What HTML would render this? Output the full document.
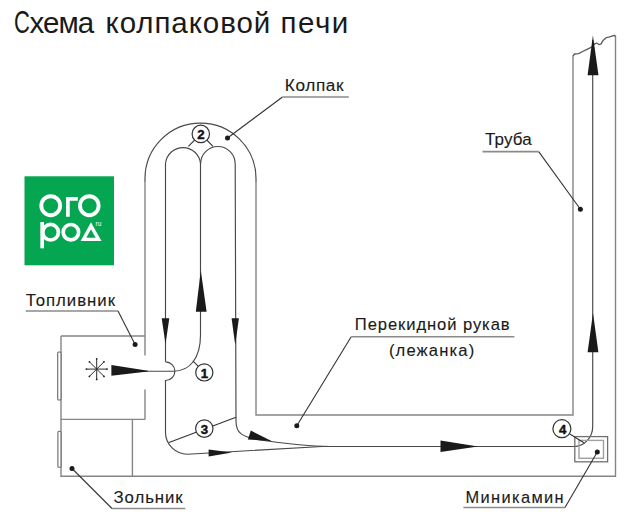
<!DOCTYPE html>
<html><head><meta charset="utf-8">
<style>
html,body{margin:0;padding:0;background:#fff;width:640px;height:521px;overflow:hidden}
svg{display:block}
text{font-family:"Liberation Sans",sans-serif;fill:#1a1a1a}
.lb{stroke:#1a1a1a;stroke-width:0.12}
.w{fill:none;stroke:#858585;stroke-width:1.4}
.f{fill:none;stroke:#484848;stroke-width:1.15}
.l{fill:none;stroke:#333;stroke-width:1.1}
.u{fill:none;stroke:#8a8a8a;stroke-width:1.6}
.a{fill:#1a1a1a;stroke:none}
.c{fill:#fff;stroke:#333;stroke-width:1.2}
.n{font-weight:bold;font-size:13.2px;fill:#111;stroke:#111;stroke-width:0.45}
</style></head><body>
<svg width="640" height="521" viewBox="0 0 640 521">
<!-- title -->
<text x="14.0" y="33.3" font-size="31" textLength="15.9" lengthAdjust="spacingAndGlyphs">С</text>
<text x="29.6" y="33.3" font-size="29.5" textLength="64.6" lengthAdjust="spacing">хема</text>
<text x="105.5" y="33.3" font-size="29.5" textLength="164.7" lengthAdjust="spacing">колпаковой</text>
<text x="280.5" y="33.3" font-size="29.5" textLength="67.8" lengthAdjust="spacing">печи</text>

<!-- logo -->
<rect x="24.5" y="176.3" width="89.5" height="89" fill="#04a651"/>


<!-- logo letters -->
<g fill="none" stroke="#fff" stroke-width="3.7">
<ellipse cx="50.7" cy="205.7" rx="9.4" ry="9.5" stroke-width="3.9"/>
<path d="M67.9 216.8 V198.9 H77.8" stroke-linejoin="miter"/>
<ellipse cx="89.3" cy="205.7" rx="9.3" ry="9.5" stroke-width="3.9"/>
<path d="M42.2 222 V248.3"/>
<circle cx="50.6" cy="232.2" r="7.8"/>
<circle cx="70.9" cy="232.2" r="7.7"/>
<path d="M91 225.8 L98.6 239.4 H83.5 Z" stroke-width="3.4" stroke-linejoin="miter" stroke-miterlimit="10"/>
</g>
<text x="95.6" y="225.8" font-size="6.5" style="fill:#fff">ru</text>
<!-- walls -->
<path class="w" d="M145 355.5 V182"/>
<path fill="none" stroke="#4a4a4a" stroke-width="1.2" d="M145 182 V178.6 A55.5 55.5 0 0 1 256 178.6 V182"/>
<path class="w" d="M256 182 V415 H573 V55.5"/>
<path class="w" d="M145 389.5 V419.4"/>
<path class="w" d="M61 336 H145"/>
<path class="w" d="M61 336 V476.2 H615.5 V35.4"/>
<path class="w" d="M61 419.4 H145"/>
<path class="w" d="M132.4 419.4 V476.2"/>
<path fill="none" stroke="#5a5a5a" stroke-width="1.3" stroke-linejoin="round" d="M573 56 L574.5 54 L578.6 53.6 L582.6 51.5 L587.5 49.1 L591.6 47.1 L594.8 43.8 L596.5 43 L598.9 44.5 L600.9 44.2 L603 40.6 L606.2 37.7 L608.7 37.2 L611.9 36.1 L614.3 35.3 L615.5 36.5"/>

<!-- flow lines -->
<path class="f" d="M165.5 361.8 V163.8 A17.55 17.55 0 0 1 200.5 163.8 V335 C200.5 358 190 371.2 173.4 371.2 H125"/>
<path class="f" d="M165.5 361.8 A9.35 9.35 0 0 1 165.5 380.5 V432 A22 22 0 0 0 187.5 454.2 L322 446.5 H574 A18.7 19.9 0 0 0 592.7 426.6 V40"/>
<path class="f" d="M200.6 163.8 A17.3 17.3 0 0 1 235.2 163.8 L236 421 C236 433 241 437 262 440.3 C290 444.5 305 446.3 330 446.5"/>
<!-- arrows -->
<path class="a" d="M200.8 270.5 L206.6 311.8 L195.8 311.8 Z"/>
<path class="a" d="M161.7 318.2 H169.3 L165.5 344 Z"/>
<path class="a" d="M231.6 318.2 H238.9 L235.2 345 Z"/>
<path class="a" d="M111.4 365 L148 370.8 L148 371.6 L111.4 375.7 Z"/>
<path class="a" d="M208.6 449.6 L232 452.6 L208.6 456.6 Z"/>
<path class="a" d="M250.8 430.6 L272 441.2 L247.9 439.4 Z"/>
<path class="a" d="M440.5 440.6 L478 446.4 L440.5 451.9 Z"/>
<path class="a" d="M592.9 35.5 L598.5 75.3 L587.6 75.3 Z"/>
<path class="a" d="M593 313 L598.4 352.2 L587.6 352.2 Z"/>

<!-- minikamin -->
<rect x="574.8" y="436.6" width="32.8" height="25.2" fill="none" stroke="#707070" stroke-width="1.3"/>
<rect x="579" y="440.4" width="24.5" height="17.9" fill="none" stroke="#a0a0a0" stroke-width="1.4"/>
<!-- handles -->
<rect x="57.7" y="352" width="3.3" height="48" rx="1" fill="#fff" stroke="#6a6a6a" stroke-width="1.1"/>
<rect x="57.9" y="431.3" width="3.1" height="36" rx="1" fill="#fff" stroke="#6a6a6a" stroke-width="1.1"/>
<!-- snowflake -->
<g stroke="#2a2a2a" stroke-width="1" fill="#222">
<path d="M86.4 369.1 H107.0 M96.7 358.8 V379.4 M89.4 361.8 L104.0 376.4 M104.0 361.8 L89.4 376.4"/>
<circle cx="86.4" cy="369.1" r="0.9" stroke="none"/><circle cx="107.0" cy="369.1" r="0.9" stroke="none"/><circle cx="96.7" cy="358.8" r="0.9" stroke="none"/><circle cx="96.7" cy="379.4" r="0.9" stroke="none"/><circle cx="89.4" cy="361.8" r="0.9" stroke="none"/><circle cx="104.0" cy="376.4" r="0.9" stroke="none"/><circle cx="104.0" cy="361.8" r="0.9" stroke="none"/><circle cx="89.4" cy="376.4" r="0.9" stroke="none"/>
</g>
<!-- leaders -->
<path class="l" d="M227.5 138 L282.5 97"/>
<path class="u" d="M282.5 97 H348.8"/>
<path class="l" d="M580.4 209.3 L538.7 151.6"/>
<path class="u" d="M482.5 151.6 H538.7"/>
<path class="l" d="M135.1 344.5 L118 311"/>
<path class="u" d="M25.7 311 H118"/>
<path class="l" d="M296.8 425.7 L351.2 336.8"/>
<path class="u" d="M351.2 336.8 H514.4"/>
<path class="l" d="M72 468.5 L112 508.5"/>
<path class="u" d="M112 508.5 H185.3"/>
<path class="l" d="M597.3 452 L565 507.5"/>
<path class="u" d="M463.4 507.5 H565"/>
<g class="a">
<circle cx="227.5" cy="138" r="2.5"/><circle cx="580.4" cy="209.3" r="2.5"/>
<circle cx="135.1" cy="344.5" r="2.5"/><circle cx="296.8" cy="425.7" r="2.5"/>
<circle cx="72" cy="468.5" r="2.5"/><circle cx="597.3" cy="452" r="2.5"/>
</g>
<!-- number circles -->
<path class="l" d="M188.4 146.3 L200.8 133.9 L213 146.3"/>
<path class="l" d="M192.8 360.9 L204.3 372.4"/>
<path class="l" d="M169 442.5 L236 417.2"/>
<path class="l" d="M561.5 428.7 L583.8 442.8"/>
<circle class="c" cx="200.8" cy="133.9" r="8.7"/>
<circle class="c" cx="204.3" cy="372.4" r="8.6"/>
<circle class="c" cx="204.3" cy="428.6" r="8.7"/>
<circle class="c" cx="561.9" cy="428.7" r="9"/>
<text class="n" x="201" y="138.6" text-anchor="middle">2</text>
<text class="n" x="204.5" y="377.6" text-anchor="middle">1</text>
<text class="n" x="204.5" y="433.6" text-anchor="middle">3</text>
<text class="n" x="562.6" y="433.6" text-anchor="middle">4</text>
<!-- labels -->
<text class="lb" x="284.8" y="90.7" font-size="17.2" textLength="58.8" lengthAdjust="spacing">Колпак</text>
<text class="lb" x="485.0" y="144.8" font-size="17.0" textLength="46.7" lengthAdjust="spacing">Труба</text>
<text class="lb" x="25.7" y="305.5" font-size="16.8" textLength="89.3" lengthAdjust="spacing">Топливник</text>
<text class="lb" x="354.8" y="330.1" font-size="16.6" textLength="154.8" lengthAdjust="spacing">Перекидной рукав</text>
<text class="lb" x="388.9" y="356" font-size="16.6" textLength="85.3" lengthAdjust="spacing">(лежанка)</text>
<text class="lb" x="113.5" y="502.8" font-size="16.8" textLength="69.2" lengthAdjust="spacing">Зольник</text>
<text class="lb" x="465.6" y="502.8" font-size="16.4" textLength="98.0" lengthAdjust="spacing">Миникамин</text>
</svg>
</body></html>
